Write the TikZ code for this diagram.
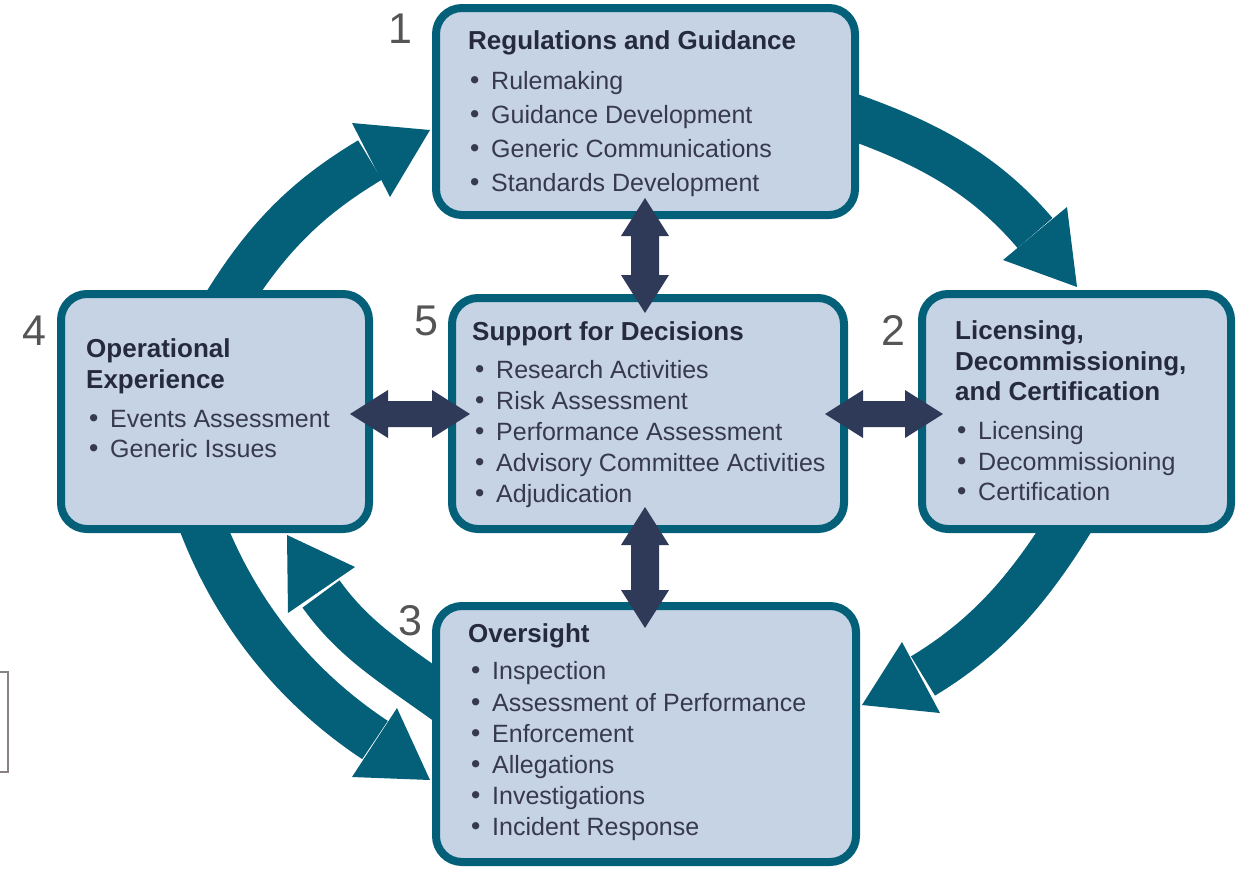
\documentclass[tikz,border=0pt]{standalone}
\usepackage{fontspec}
\setmainfont{Liberation Sans}
\newfontfamily\bulfont{DejaVu Sans}
\usetikzlibrary{calc}
\definecolor{nrcteal}{HTML}{045F78}
\definecolor{nrcfill}{HTML}{C5D3E4}
\definecolor{nrcnavy}{HTML}{2F3A59}
\definecolor{titlecol}{HTML}{262A40}
\definecolor{itemcol}{HTML}{373A4C}
\definecolor{numcol}{HTML}{555555}
\definecolor{fragcol}{HTML}{8A8088}
\newcommand\itm[1]{\llap{{\bulfont\symbol{"2022}}\hspace{9pt}}#1}
\newcommand\vdbl[2]{\fill[dbl] (#1) -- ($(#1)+(24,38)$) -- ($(#1)+(14,38)$) -- ($(#2)+(14,-38)$) -- ($(#2)+(24,-38)$) -- (#2) -- ($(#2)+(-24,-38)$) -- ($(#2)+(-14,-38)$) -- ($(#1)+(-14,38)$) -- ($(#1)+(-24,38)$) -- cycle;}
\newcommand\hdbl[2]{\fill[dbl] (#1) -- ($(#1)+(38,-24)$) -- ($(#1)+(38,-13)$) -- ($(#2)+(-38,-13)$) -- ($(#2)+(-38,-24)$) -- (#2) -- ($(#2)+(-38,24)$) -- ($(#2)+(-38,13)$) -- ($(#1)+(38,13)$) -- ($(#1)+(38,24)$) -- cycle;}
\tikzset{
  box/.style={draw=nrcteal, line width=8pt, fill=nrcfill, rounded corners=26pt, inner sep=0pt, outer sep=0pt},
  title/.style={anchor=base west, inner sep=0pt, font=\fontsize{26}{30}\selectfont\bfseries, text=titlecol},
  item/.style={anchor=base west, inner sep=0pt, font=\fontsize{25}{30}\selectfont, text=itemcol},
  num/.style={anchor=base, inner sep=0pt, font=\fontsize{43}{50}\selectfont, text=numcol},
  shaft/.style={draw=nrcteal, line width=46pt},
  head/.style={fill=nrcteal},
  dbl/.style={fill=nrcnavy}
}
\begin{document}
\begin{tikzpicture}[x=1pt,y=-1pt]
\useasboundingbox (0,0) rectangle (1248,868);
% coordinates for big arrow ends
\coordinate (hA) at (370,160);
\coordinate (hB) at (1035,233);
\coordinate (hC) at (923,676);
\coordinate (hD) at (321,594);
\coordinate (hE) at (375,740);
% big curved arrows
\draw[shaft] (224,307) .. controls (268,235) and (310,196) .. (hA);
\fill[head] (352,123) -- (430,130) -- (390,197) -- cycle;
\draw[shaft] (839,112) .. controls (924,141) and (983,172) .. (hB);
\fill[head] (1067,207) -- (1077,287) -- (1003,260) -- cycle;
\draw[shaft] (1074,516) .. controls (1030,588) and (989,636) .. (hC);
\fill[head] (902,642) -- (862,705) -- (940,713) -- cycle;
\draw[shaft] (448,703) .. controls (391,662) and (355,641) .. (hD);
\fill[head] (355,567) -- (287,535) -- (288,613) -- cycle;
\draw[shaft] (198,514) .. controls (232,608) and (292,685) .. (hE);
\fill[head] (397,708) -- (430,780) -- (352,777) -- cycle;
% boxes
\node[box, minimum width=419pt, minimum height=207pt] (b1) at (645.5,111.5) {};
\node[box, minimum width=309pt, minimum height=235pt] (b2) at (1076.5,411.5) {};
\node[box, minimum width=420pt, minimum height=256pt] (b3) at (646,734) {};
\node[box, minimum width=308pt, minimum height=235pt] (b4) at (215,411.5) {};
\node[box, minimum width=392pt, minimum height=231pt] (b5) at (648,413.5) {};
% box 1 text
\node[title] (t1) at (468,49) {Regulations and Guidance};
\foreach \yy/\txt [count=\i] in {89/Rulemaking, 123/Guidance Development, 157/Generic Communications, 191/Standards Development}
  \node[item] (i1-\i) at (491,\yy) {\itm{\txt}};
% box 2 text
\node[title] (t2a) at (955,339) {Licensing,};
\node[title] (t2b) at (955,370) {Decommissioning,};
\node[title] (t2c) at (955,400) {and Certification};
\foreach \yy/\txt [count=\i] in {439/Licensing, 470/Decommissioning, 500/Certification}
  \node[item] (i2-\i) at (978,\yy) {\itm{\txt}};
% box 3 text
\node[title] (t3) at (468,642) {Oversight};
\foreach \yy/\txt [count=\i] in {679/Inspection, 711/Assessment of Performance, 742/Enforcement, 773/Allegations, 804/Investigations, 835/Incident Response}
  \node[item] (i3-\i) at (492,\yy) {\itm{\txt}};
% box 4 text
\node[title] (t4a) at (86,357) {Operational};
\node[title] (t4b) at (86,388) {Experience};
\foreach \yy/\txt [count=\i] in {427/Events Assessment, 457/Generic Issues}
  \node[item] (i4-\i) at (110,\yy) {\itm{\txt}};
% box 5 text
\node[title] (t5) at (472,340) {Support for Decisions};
\foreach \yy/\txt [count=\i] in {378/Research Activities, 409/Risk Assessment, 440/Performance Assessment, 471/Advisory Committee Activities, 502/Adjudication}
  \node[item] (i5-\i) at (496,\yy) {\itm{\txt}};
% numbers
\node[num] (n1) at (400,43) {1};
\node[num] (n2) at (893,345) {2};
\node[num] (n3) at (410,635) {3};
\node[num] (n4) at (34,345) {4};
\node[num] (n5) at (426,335) {5};
% double arrows
\coordinate (d1a) at (645,198);
\coordinate (d1b) at (645,313);
\coordinate (d2a) at (645,507);
\coordinate (d2b) at (645,628);
\coordinate (d3a) at (350,414);
\coordinate (d3b) at (470,414);
\coordinate (d4a) at (825,414);
\coordinate (d4b) at (943,414);
\vdbl{d1a}{d1b}
\vdbl{d2a}{d2b}
\hdbl{d3a}{d3b}
\hdbl{d4a}{d4b}
% fragment at left edge
\draw[line width=1.2pt, draw=fragcol] (0,672) -- (8,672) -- (8,772) -- (0,772);
\end{tikzpicture}
\end{document}
